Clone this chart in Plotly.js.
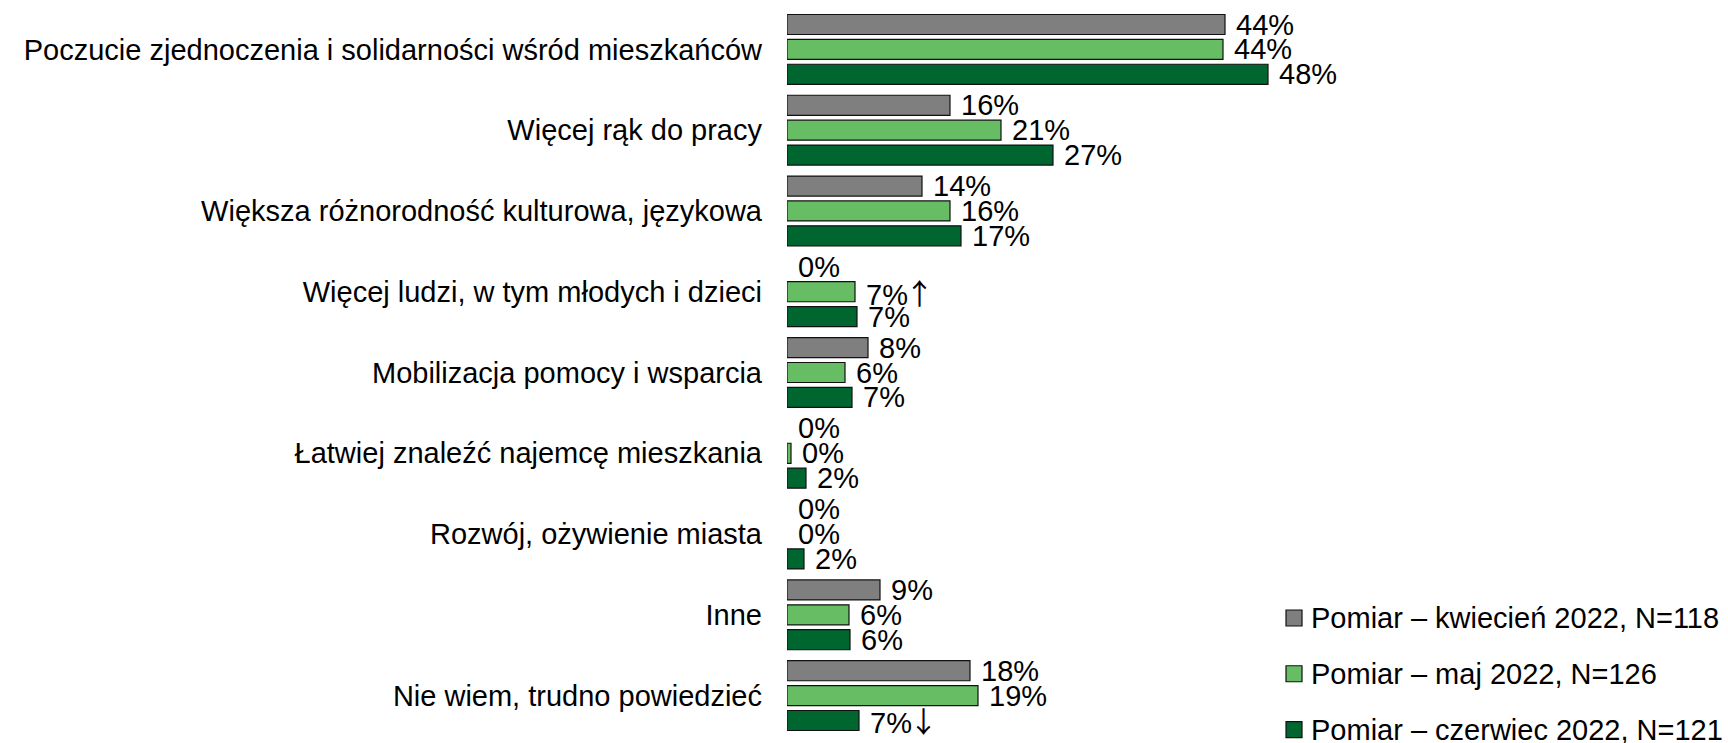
<!DOCTYPE html>
<html>
<head>
<meta charset="utf-8">
<script src="https://cdn.plot.ly/plotly-3.0.1.min.js"></script>
<style>
  html, body { margin: 0; padding: 0; background: #ffffff; }
  #chart { width: 1728px; height: 743px; }
</style>
</head>
<body>
<div id="chart"></div>
<script>
// ---- data ----
const categories = [
  "Poczucie zjednoczenia i solidarności wśród mieszkańców",
  "Więcej rąk do pracy",
  "Większa różnorodność kulturowa, językowa",
  "Więcej ludzi, w tym młodych i dzieci",
  "Mobilizacja pomocy i wsparcia",
  "Łatwiej znaleźć najemcę mieszkania",
  "Rozwój, ożywienie miasta",
  "Inne",
  "Nie wiem, trudno powiedzieć"
];
const seriesNames = [
  "Pomiar – kwiecień 2022, N=118",
  "Pomiar – maj 2022, N=126",
  "Pomiar – czerwiec 2022, N=121"
];
// bar lengths (%)
const aprilValues = [43.8, 16.3, 13.5, 0, 8.1, 0, 0, 9.3, 18.3];
const mayValues   = [43.6, 21.4, 16.3, 6.8, 5.8, 0.4, 0, 6.2, 19.1];
const juneValues  = [48.1, 26.6, 17.4, 7.0, 6.5, 1.9, 1.7, 6.3, 7.2];
// printed labels (%)
const aprilLabels = [44, 16, 14, 0, 8, 0, 0, 9, 18];
const mayLabels   = [44, 21, 16, 7, 6, 0, 0, 6, 19];
const juneLabels  = [48, 27, 17, 7, 7, 2, 2, 6, 7];
// significance marks
const aprilMarks = ["", "", "", "", "", "", "", "", ""];
const mayMarks   = ["", "", "", "↑", "", "", "", "", ""];
const juneMarks  = ["", "", "", "", "", "", "", "", "↓"];

const colors = ["#7F7F7F", "#66BD63", "#00662F"];

const FONT = "Liberation Sans, Arial, sans-serif";
const GAP = "\u00A0";

function labelText(v, m) {
  if (!m) return GAP + v + "%";
  return GAP + v + "<span style=\"letter-spacing:-3px;\">%</span>" +
    "<span style=\"font-family:'Noto Sans CJK SC';\">" + m + "</span>";
}

function makeTrace(name, values, labels, marks, color) {
  return {
    type: "bar",
    orientation: "h",
    name: name,
    showlegend: false,
    y: categories,
    x: values,
    text: labels.map((v, i) => labelText(v, marks[i])),
    textposition: "outside",
    textfont: { family: FONT, size: 29, color: "#000000" },
    constraintext: "none",
    cliponaxis: false,
    hoverinfo: "none",
    marker: {
      color: color,
      line: { color: "#111111", width: values.map(v => v > 0 ? 1.2 : 0) }
    }
  };
}

const data = [
  makeTrace(seriesNames[0], aprilValues, aprilLabels, aprilMarks, colors[0]),
  makeTrace(seriesNames[1], mayValues, mayLabels, mayMarks, colors[1]),
  makeTrace(seriesNames[2], juneValues, juneLabels, juneMarks, colors[2])
];

// legend (drawn as key squares + texts, kept inside the page)
const legendSymbolX = 0.5388;
const legendTextX = 0.5548;
const legendRowsY = [0.1623, 0.0856, 0.0087];

const legendShapes = seriesNames.map((n, i) => ({
  type: "rect",
  xref: "paper", yref: "paper",
  xsizemode: "pixel", ysizemode: "pixel",
  xanchor: legendSymbolX, yanchor: legendRowsY[i],
  x0: -8, x1: 8, y0: -8, y1: 8,
  fillcolor: colors[i],
  line: { color: "#111111", width: 1.2 }
}));

const legendAnnotations = seriesNames.map((n, i) => ({
  text: n,
  xref: "paper", yref: "paper",
  x: legendTextX, y: legendRowsY[i],
  xanchor: "left", yanchor: "middle",
  showarrow: false,
  font: { family: FONT, size: 29, color: "#000000" }
}));

const layout = {
  width: 1728,
  height: 743,
  margin: { l: 787, r: 0, t: 9, b: 7, pad: 0, autoexpand: false },
  paper_bgcolor: "#ffffff",
  plot_bgcolor: "#ffffff",
  font: { family: FONT, size: 29, color: "#000000" },
  barmode: "group",
  bargap: 0.076,
  bargroupgap: 0.195,
  showlegend: false,
  shapes: legendShapes,
  annotations: legendAnnotations,
  xaxis: {
    range: [0, 94.1],
    visible: false,
    showgrid: false,
    zeroline: false,
    fixedrange: true
  },
  yaxis: {
    type: "category",
    range: [categories.length - 0.5, -0.5],
    showgrid: false,
    zeroline: false,
    showline: false,
    ticks: "",
    ticklabelstandoff: 24,
    tickfont: { family: FONT, size: 29, color: "#000000" },
    fixedrange: true
  }
};

Plotly.newPlot("chart", data, layout, { displayModeBar: false, staticPlot: true });
</script>
</body>
</html>
